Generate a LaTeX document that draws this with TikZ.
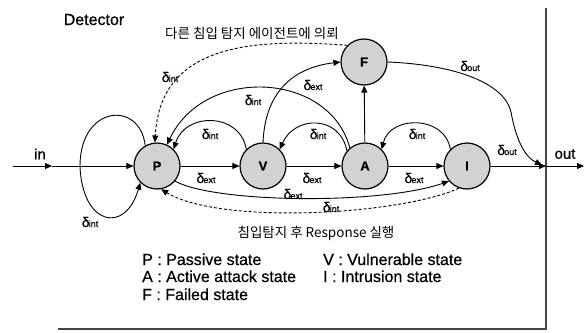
\documentclass[tikz,border=0pt]{standalone}
\usepackage{fontspec}
\setmainfont{Liberation Sans}[FakeBold=0.6]
\newfontfamily\kr{Noto Sans CJK KR}
\usetikzlibrary{arrows.meta}
\newcommand\dl[1]{δ\kern-0.8pt{\fontsize{9}{9}\selectfont #1}}
\begin{document}
\begin{tikzpicture}[x=1pt,y=-1pt,
  state/.style={circle, draw, line width=1.2pt, fill=gray!35, minimum size=46pt, inner sep=0pt, font=\fontsize{13}{14}\selectfont\bfseries},
  arr/.style={line width=0.9pt, -{Triangle[length=7pt,width=6pt]}},
  dsh/.style={arr, dash pattern=on 3pt off 2pt},
  lbl/.style={font=\fontsize{14}{14}\selectfont, inner sep=0pt},
  leg/.style={font=\fontsize{16}{18}\selectfont, anchor=base west, inner sep=0pt},
  frame/.style={line width=1.6pt, draw=gray!55!black}]
\useasboundingbox (0,0) rectangle (585,332);
% frame
\coordinate (ftop) at (546,8);
\coordinate (fcorner) at (546,329);
\coordinate (fleft) at (58,329);
\draw[frame] (ftop) -- (fcorner) -- (fleft);
\node[anchor=base, font=\fontsize{16}{18}\selectfont, inner sep=0pt] (det) at (94,25) {Detector};
% states
\node[state] (P) at (157,166) {P};
\node[state] (V) at (263,166) {V};
\node[state] (A) at (365,166) {A};
\node[state] (I) at (467,166) {I};
\node[state] (F) at (364,62) {F};
% input
\coordinate (inL) at (13,166);
\coordinate (inM) at (52,166);
\draw[arr] (inL) -- (inM);
\draw[arr] (inM) -- (P);
\node[font=\fontsize{15}{16}\selectfont, inner sep=0pt] (inlbl) at (40,154) {in};
% self loop
\draw[arr] (P.120) .. controls (140,100) and (80,105) .. (80,166)
  .. controls (82,225) and (125,235) .. (P.-135);
\node[lbl] (l0) at (90,222) {\dl{int}};
% main chain
\draw[arr] (P) -- (V);
\draw[arr] (V) -- (A);
\draw[arr] (A) -- (I);
\node[lbl] (l1) at (206,178) {\dl{ext}};
\node[lbl] (l2) at (312,178) {\dl{ext}};
\node[lbl] (l3) at (414,178) {\dl{ext}};
% output
\coordinate (oM) at (546,166);
\coordinate (oR) at (584,166);
\draw[arr] (I) -- (oM);
\draw[arr] (oM) -- (oR);
\node[font=\fontsize{15}{16}\selectfont, inner sep=0pt] (outlbl) at (565,154) {out};
\node[lbl] (l4) at (507,150) {\dl{out}};
% F to out
\draw[arr] (F.east) .. controls (460,65) and (505,85) .. (511,112)
  .. controls (517,145) and (527,158) .. (542,165);
\node[lbl] (l5) at (470,66) {\dl{out}};
% A to F, V to F
\draw[arr] (A) -- (F);
\draw[arr] (V.north) .. controls (265,95) and (290,68) .. (F.west);
\node[lbl] (l6) at (313,85) {\dl{ext}};
% back arcs
\draw[arr] (V.135) .. controls (240,112) and (185,112) .. (P.45);
\node[lbl] (l7) at (210,134) {\dl{int}};
\draw[arr] (A.130) .. controls (330,72) and (205,65) .. (P.65);
\node[lbl] (l8) at (253,100) {\dl{int}};
\draw[arr] (A.140) .. controls (340,115) and (295,115) .. (V.45);
\node[lbl] (l9) at (318,134) {\dl{int}};
\draw[arr] (I.135) .. controls (445,115) and (390,115) .. (A.45);
\node[lbl] (l10) at (417,134) {\dl{int}};
% top dashed
\draw[dsh] (F.135) .. controls (250,38) and (160,45) .. (P.95);
\node[lbl] (l11) at (170,77) {\dl{int}};
\node[font=\kr\fontsize{13.5}{14}\selectfont, inner sep=0pt] (ktop) at (252,33) {다른 침입 탐지 에이전트에 의뢰};
% bottom
\draw[arr] (P.-40) .. controls (215,203) and (380,205) .. (I.-140);
\node[lbl] (l12) at (293,194) {\dl{ext}};
\draw[dsh] (I.-110) .. controls (400,215) and (220,225) .. (P.-80);
\node[lbl] (l13) at (331,207) {\dl{int}};
\node[font=\kr\fontsize{13.5}{14}\selectfont, inner sep=0pt] (kbot) at (316,233) {침입탐지 후 Response 실행};
% legend
\node[leg] (gP) at (142,265) {P : Passive state};
\node[leg] (gA) at (142,282) {A : Active attack state};
\node[leg] (gF) at (142,300) {F : Failed state};
\node[leg] (gV) at (323,265) {V : Vulnerable state};
\node[leg] (gI) at (323,282) {I : Intrusion state};
\end{tikzpicture}
\end{document}
